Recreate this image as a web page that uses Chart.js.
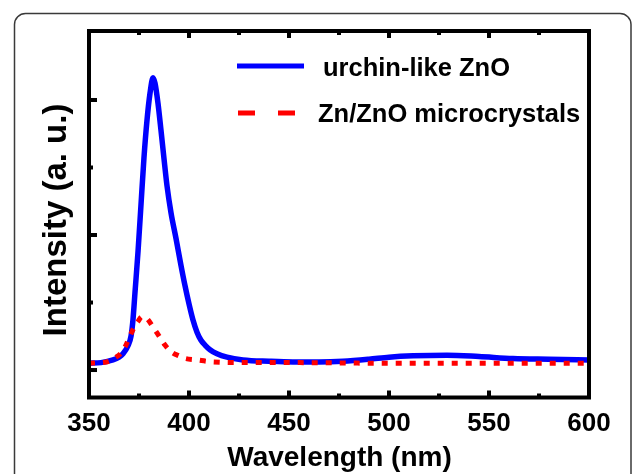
<!DOCTYPE html>
<html><head><meta charset="utf-8">
<script src="https://cdn.jsdelivr.net/npm/chart.js@4/dist/chart.umd.min.js"></script>
<style>html,body{margin:0;padding:0;background:#fff;overflow:hidden}#wrap{width:633px;height:474px;position:relative}</style>
</head><body><div id="wrap"><canvas id="c" width="633" height="474"></canvas></div>
<script>
const seriesNames = ['urchin-like ZnO', 'Zn/ZnO microcrystals'];
const blueWavelength = [350,356,362,365,367,369.5,371,372,373,374.5,376,377.5,379,380.5,382,383,384.5,386,387.5,389,391,393.5,396,398,400,402,404,406,408,410.5,414,419,427,440,452,465,477,490,500,512,529,545,562,580,600];
const blueIntensity  = [0.10,0.11,0.15,0.19,0.24,0.36,0.50,0.75,1.15,1.75,2.45,3.15,3.70,4.10,4.33,4.25,3.95,3.55,3.13,2.73,2.33,1.95,1.55,1.25,0.98,0.74,0.56,0.44,0.37,0.30,0.24,0.19,0.15,0.13,0.12,0.12,0.13,0.16,0.19,0.21,0.22,0.20,0.17,0.16,0.15];
const redWavelength = [350,356,360,363,366,368,370,372,374.5,376.5,379,381.5,384,386,388,390,392,395,397,404,412,430,450,500,550,600];
const redIntensity  = [0.10,0.11,0.13,0.18,0.25,0.34,0.47,0.60,0.72,0.79,0.76,0.66,0.55,0.46,0.37,0.30,0.25,0.21,0.18,0.15,0.12,0.11,0.11,0.10,0.10,0.10];
const xMajorTicks = [350,400,450,500,550,600];
const xMinorTicks = [375,425,475,525,575];
const yMajorTicks = [0,2,4];
const yMinorTicks = [1,3];
const xTitle = 'Wavelength (nm)';
const yTitle = 'Intensity (a. u.)';

const FONT = "'Liberation Sans', Arial, sans-serif";

const toPoints = (xs, ys) => xs.map((x, i) => ({x: x, y: ys[i]}));

const decor = {
  id: 'decor',
  beforeDraw(chart) {
    const ctx = chart.ctx;
    ctx.save();
    ctx.strokeStyle = '#3a3a3a';
    ctx.lineWidth = 1.5;
    ctx.beginPath();
    ctx.roundRect(14.5, 13.5, 616.5, 500, 11);
    ctx.stroke();
    ctx.restore();
  },
  afterDatasetsDraw(chart) {
    const ctx = chart.ctx;
    const a = chart.chartArea;
    const xs = chart.scales.x, ys = chart.scales.y;
    ctx.save();
    ctx.fillStyle = '#000';
    xMajorTicks.forEach(v => { const p = xs.getPixelForValue(v);
      ctx.fillRect(p - 2, a.bottom - 7, 4, 7); ctx.fillRect(p - 2, a.top, 4, 7); });
    xMinorTicks.forEach(v => { const p = xs.getPixelForValue(v);
      ctx.fillRect(p - 2, a.bottom - 4, 4, 4); ctx.fillRect(p - 2, a.top, 4, 4); });
    yMajorTicks.forEach(v => { const p = ys.getPixelForValue(v);
      ctx.fillRect(a.left, p - 2, 8, 4); });
    yMinorTicks.forEach(v => { const p = ys.getPixelForValue(v);
      ctx.fillRect(a.left, p - 2, 4, 4); });
    ctx.strokeStyle = '#000';
    ctx.lineWidth = 4;
    ctx.strokeRect(a.left, a.top, a.right - a.left, a.bottom - a.top);
    ctx.restore();
  },
  afterDraw(chart) {
    const ctx = chart.ctx;
    const ds = chart.data.datasets;
    ctx.save();
    ctx.lineCap = 'butt';
    ctx.strokeStyle = ds[0].borderColor; ctx.lineWidth = 5;
    ctx.beginPath(); ctx.moveTo(237, 66); ctx.lineTo(304, 66); ctx.stroke();
    ctx.strokeStyle = ds[1].borderColor; ctx.setLineDash([17, 23]);
    ctx.beginPath(); ctx.moveTo(238, 113); ctx.lineTo(295, 113); ctx.stroke();
    ctx.setLineDash([]);
    ctx.fillStyle = '#000';
    ctx.font = 'bold 25.5px ' + FONT;
    ctx.textAlign = 'left'; ctx.textBaseline = 'alphabetic';
    ctx.fillText(ds[0].label, 323, 76);
    ctx.fillText(ds[1].label, 318, 121.5);
    ctx.font = 'bold 28px ' + FONT;
    ctx.textAlign = 'center';
    ctx.fillText(xTitle, 339.5, 465.5);
    ctx.translate(66, 220);
    ctx.rotate(-Math.PI / 2);
    ctx.font = 'bold 33px ' + FONT;
    ctx.fillText(yTitle, 0, 0);
    ctx.restore();
  }
};

new Chart(document.getElementById('c'), {
  type: 'line',
  data: {
    datasets: [
      { label: seriesNames[0], data: toPoints(blueWavelength, blueIntensity), borderColor: '#0000ff',
        borderWidth: 5.5, pointRadius: 0, cubicInterpolationMode: 'monotone', fill: false, order: 2 },
      { label: seriesNames[1], data: toPoints(redWavelength, redIntensity), borderColor: '#ff0000',
        borderWidth: 5, borderDash: [6, 8], borderCapStyle: 'butt', pointRadius: 0,
        cubicInterpolationMode: 'monotone', fill: false, order: 1 }
    ]
  },
  options: {
    responsive: false, animation: false, devicePixelRatio: 1,
    layout: { padding: { left: 0, top: 31, right: 44, bottom: 0 } },
    plugins: { legend: { display: false }, tooltip: { enabled: false } },
    scales: {
      x: {
        type: 'linear', min: 350, max: 600,
        afterBuildTicks: s => { s.ticks = xMajorTicks.map(v => ({ value: v })); },
        afterFit: s => { s.height = 76.5; },
        grid: { display: false, drawTicks: false },
        border: { display: false },
        ticks: { autoSkip: false, maxRotation: 0, padding: 11, color: '#000',
                 font: { family: FONT, weight: 'bold', size: 26 } }
      },
      y: {
        type: 'linear', min: -0.407, max: 5.022,
        afterBuildTicks: s => { s.ticks = yMajorTicks.concat(yMinorTicks).map(v => ({ value: v })); },
        afterFit: s => { s.width = 89; },
        grid: { display: false, drawTicks: false },
        border: { display: false },
        ticks: { display: false }
      }
    }
  },
  plugins: [decor]
});
</script>
</body></html>
